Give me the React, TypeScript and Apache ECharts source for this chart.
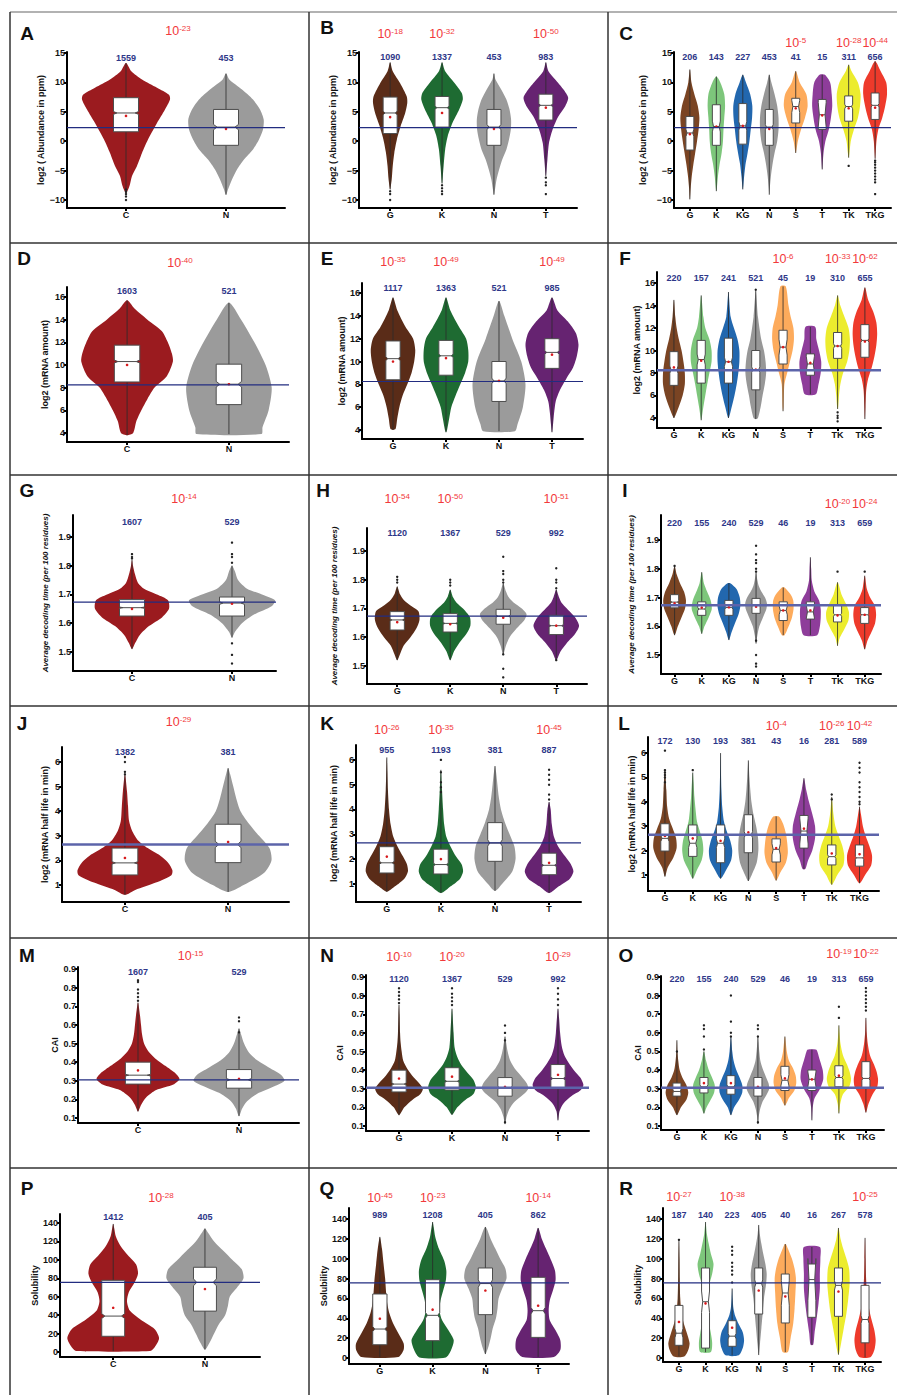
import React, { useEffect, useRef } from 'react';
import * as echarts from 'echarts';

const FONT = '"Liberation Sans", Arial, Helvetica, "DejaVu Sans", sans-serif';

// ---------- categories & colours ----------
const CATS2 = ['C', 'N'];
const CATS4 = ['G', 'K', 'N', 'T'];
const CATS8 = ['G', 'K', 'KG', 'N', 'S', 'T', 'TK', 'TKG'];
const COL2 = ['#9b1b1f', '#9b9b9b'];
const COL4 = ['#5a2c18', '#1e6b32', '#9b9b9b', '#662371'];
const COL8 = ['#7a4423', '#7dc67b', '#2267ae', '#979797', '#fdab5c', '#8e3d9a', '#ecec2e', '#ee3a2b'];

// ---------- tick labels ----------
const TICKS_ABUND = [-10, -5, 0, 5, 10, 15];
const TICKS_MRNA = [4, 6, 8, 10, 12, 14, 16];
const TICKS_DECOD = [1.5, 1.6, 1.7, 1.8, 1.9];
const TICKS_HALF = [1, 2, 3, 4, 5, 6];
const TICKS_CAI = [0.1, 0.2, 0.3, 0.4, 0.5, 0.6, 0.7, 0.8, 0.9];
const TICKS_SOL = [0, 20, 40, 60, 80, 100, 120, 140];

// ---------- axis titles ----------
const TITLE_ABUND = 'log2 ( Abundance in ppm)';
const TITLE_MRNA = 'log2 (mRNA amount)';
const TITLE_DECOD = 'Average decoding time (per 100 residues)';
const TITLE_HALF = 'log2 (mRNA half life in min)';
const TITLE_CAI = 'CAI';
const TITLE_SOL = 'Solubility';

// ---------- reference (genome median) lines ----------
const REF_ABUND = 2.3;
const REF_MRNA = 8.25;
const REF_DECOD = 1.673;
const REF_HALF = 2.65;
const REF_CAI = 0.305;
const REF_SOL = 75.7;

// ---------- counts ----------
const COUNTS_A = [1559, 453];
const COUNTS_B = [1090, 1337, 453, 983];
const COUNTS_C = [206, 143, 227, 453, 41, 15, 311, 656];
const COUNTS_D = [1603, 521];
const COUNTS_E = [1117, 1363, 521, 985];
const COUNTS_F = [220, 157, 241, 521, 45, 19, 310, 655];
const COUNTS_G = [1607, 529];
const COUNTS_H = [1120, 1367, 529, 992];
const COUNTS_I = [220, 155, 240, 529, 46, 19, 313, 659];
const COUNTS_J = [1382, 381];
const COUNTS_K = [955, 1193, 381, 887];
const COUNTS_L = [172, 130, 193, 381, 43, 16, 281, 589];
const COUNTS_M = [1607, 529];
const COUNTS_N = [1120, 1367, 529, 992];
const COUNTS_O = [220, 155, 240, 529, 46, 19, 313, 659];
const COUNTS_P = [1412, 405];
const COUNTS_Q = [989, 1208, 405, 862];
const COUNTS_R = [187, 140, 223, 405, 40, 16, 267, 578];

// ---------- p-value exponents (10^x) ----------
const P_A = ['-23'];
const P_B = ['-18', '-32', null, '-50'];
const P_C = [null, null, null, null, '-5', null, '-28', '-44'];
const P_D = ['-40'];
const P_E = ['-35', '-49', null, '-49'];
const P_F = [null, null, null, null, '-6', null, '-33', '-62'];
const P_G = ['-14'];
const P_H = ['-54', '-50', null, '-51'];
const P_I = [null, null, null, null, null, null, '-20', '-24'];
const P_J = ['-29'];
const P_K = ['-26', '-35', null, '-45'];
const P_L = [null, null, null, null, '-4', null, '-26', '-42'];
const P_M = ['-15'];
const P_N = ['-10', '-20', null, '-29'];
const P_O = [null, null, null, null, null, null, '-19', '-22'];
const P_P = ['-28'];
const P_Q = ['-45', '-23', null, '-14'];
const P_R = ['-27', null, '-38', null, null, null, null, '-25'];

// ---------- violins: p = [value, half width], b = [q1, median, q3], m = mean, o = outliers ----------
const VIOLIN_A = [
  { p: [[-8.8, 0], [-7.6, 0.035], [-5.9, 0.06], [-4.2, 0.11], [-2, 0.16], [0.3, 0.22], [3.1, 0.31], [5.4, 0.39], [7.1, 0.44], [7.9, 0.43], [9.1, 0.31], [10.5, 0.16], [11.9, 0.053], [13.3, 0]], b: [1.6, 4.8, 7.4], m: 4.3, o: [-8.2, -8.6, -9.0, -9.4, -10.0] },
  { p: [[-9.1, 0], [-8.2, 0.02], [-6.5, 0.06], [-4.8, 0.11], [-3.1, 0.18], [-1.4, 0.27], [0.3, 0.33], [2.0, 0.37], [3.7, 0.377], [5.4, 0.34], [7.1, 0.27], [8.8, 0.16], [10.5, 0.033], [11.5, 0]], b: [-0.7, 2.4, 5.4], m: 2.1 },
];
const VIOLIN_B = [
  { p: [[-8.2, 0], [-6.5, 0.03], [-4.2, 0.05], [-2, 0.08], [0.3, 0.13], [2.5, 0.2], [4.8, 0.29], [6.5, 0.33], [7.6, 0.32], [9.9, 0.19], [11.9, 0.05], [13.4, 0]], b: [1.3, 4.8, 7.5], m: 4.1, o: [-8.5, -9, -10] },
  { p: [[-7.2, 0], [-4.2, 0.03], [-1.4, 0.06], [0.9, 0.11], [3.1, 0.2], [5.4, 0.33], [7.1, 0.4], [8.2, 0.38], [9.9, 0.24], [11.9, 0.06], [13.4, 0]], b: [2.4, 5.7, 7.6], m: 4.8, o: [-7.5, -8, -8.5, -9] },
  { p: [[-9.1, 0], [-8.2, 0.02], [-6.5, 0.05], [-4.8, 0.1], [-3.1, 0.16], [-1.4, 0.24], [0.3, 0.29], [2.0, 0.325], [3.7, 0.33], [5.4, 0.3], [7.1, 0.24], [8.8, 0.14], [10.5, 0.03], [11.5, 0]], b: [-0.7, 2.4, 5.4], m: 2.1 },
  { p: [[-5.9, 0], [-3.1, 0.03], [-0.3, 0.06], [2.0, 0.13], [4.2, 0.24], [5.9, 0.37], [7.4, 0.43], [8.8, 0.34], [10.5, 0.18], [11.9, 0.05], [13.4, 0]], b: [3.6, 6.1, 8.0], m: 5.7, o: [-6.2, -7, -7.5, -9] },
];
const VIOLIN_C = [
  { p: [[-9.9, 0], [-8, 0.03], [-6, 0.07], [-4, 0.13], [-2, 0.2], [0, 0.27], [2, 0.33], [4, 0.36], [6, 0.3], [8, 0.17], [10, 0.06], [12.2, 0]], b: [-1.5, 1.4, 4.2], m: 1.2 },
  { p: [[-8.5, 0], [-8, 0.02], [-6, 0.06], [-4, 0.12], [-2, 0.2], [0, 0.25], [2, 0.27], [4, 0.3], [6, 0.33], [8, 0.3], [10, 0.15], [11, 0]], b: [-0.7, 2.5, 6.2], m: 2.5 },
  { p: [[-8.2, 0], [-6, 0.05], [-4, 0.1], [-2, 0.18], [0, 0.25], [2, 0.3], [4, 0.35], [6, 0.36], [8, 0.28], [10, 0.12], [11.3, 0]], b: [-0.5, 2.6, 6.4], m: 2.6 },
  { p: [[-9.1, 0], [-8, 0.02], [-6, 0.06], [-4, 0.12], [-2, 0.2], [0, 0.3], [2, 0.35], [4, 0.35], [6, 0.3], [8, 0.2], [10, 0.08], [11.3, 0]], b: [-0.7, 2.4, 5.4], m: 2.1 },
  { p: [[-2, 0], [0, 0.08], [2, 0.2], [4, 0.35], [6, 0.45], [8, 0.4], [10, 0.15], [11.9, 0]], b: [3.1, 5.9, 7.3], m: 5.6 },
  { p: [[-4.8, 0], [-2, 0.05], [0, 0.12], [2, 0.25], [4, 0.33], [6, 0.38], [8, 0.36], [10, 0.3], [11.3, 0.1]], b: [2.0, 4.5, 7.1], m: 4.4 },
  { p: [[-2.8, 0], [-2, 0.03], [0, 0.08], [2, 0.2], [4, 0.35], [6, 0.43], [8, 0.45], [10, 0.35], [12, 0.1], [13, 0]], b: [3.4, 5.9, 7.7], m: 5.6, o: [-4.2] },
  { p: [[-3, 0], [-2, 0.02], [0, 0.05], [2, 0.12], [4, 0.27], [6, 0.38], [8, 0.45], [10, 0.42], [12, 0.2], [13.6, 0]], b: [3.7, 6.1, 8.2], m: 5.7, o: [-3.3, -3.6, -4, -4.5, -5, -5.5, -6, -6.5, -7, -9] },
];
const VIOLIN_D = [
  { p: [[3.8, 0], [4, 0.06], [5, 0.09], [6, 0.14], [7, 0.2], [8, 0.27], [9, 0.39], [10.3, 0.45], [11, 0.44], [12, 0.4], [13, 0.34], [14, 0.2], [15, 0.07], [15.7, 0]], b: [8.5, 10.3, 11.75], m: 10.0 },
  { p: [[3.9, 0.32], [4.5, 0.33], [6, 0.39], [8, 0.42], [10, 0.36], [12, 0.25], [14, 0.12], [15.5, 0]], b: [6.5, 8.3, 10.07], m: 8.3 },
];
const VIOLIN_E = [
  { p: [[4.0, 0], [4.1, 0.05], [5, 0.08], [6, 0.12], [7, 0.18], [8, 0.27], [9, 0.35], [10, 0.4], [11, 0.42], [12, 0.38], [13, 0.24], [14.5, 0.08], [15.6, 0]], b: [8.4, 10.25, 11.8], m: 10.0 },
  { p: [[3.8, 0], [4, 0.02], [5, 0.06], [6, 0.1], [7, 0.18], [8, 0.27], [9, 0.36], [10, 0.42], [11, 0.42], [12, 0.38], [13, 0.25], [14.5, 0.08], [15.6, 0]], b: [8.8, 10.5, 11.85], m: 10.3 },
  { p: [[3.9, 0.3], [4.5, 0.35], [6, 0.45], [8, 0.5], [10, 0.42], [12, 0.25], [14, 0.1], [15.3, 0]], b: [6.5, 8.3, 10.0], m: 8.3 },
  { p: [[3.8, 0], [4.5, 0.02], [5.5, 0.04], [6.5, 0.07], [7.5, 0.15], [8.5, 0.27], [9.5, 0.4], [10.5, 0.47], [11.5, 0.5], [12.5, 0.45], [13.5, 0.3], [14.5, 0.1], [15.6, 0]], b: [9.4, 10.8, 12.0], m: 10.6 },
];
const VIOLIN_F = [
  { p: [[4.0, 0], [4.2, 0.05], [5, 0.18], [6, 0.32], [7, 0.4], [8, 0.4], [9, 0.35], [10, 0.28], [11, 0.18], [12, 0.1], [13, 0.05], [14.5, 0]], b: [6.9, 8.3, 9.9], m: 8.5 },
  { p: [[3.8, 0], [4, 0.02], [5, 0.08], [6, 0.15], [7, 0.22], [8, 0.3], [9, 0.38], [10, 0.38], [11, 0.3], [12, 0.15], [13, 0.08], [14.9, 0]], b: [7.1, 9.2, 10.9], m: 9.1 },
  { p: [[4.0, 0], [5, 0.12], [6, 0.22], [7, 0.3], [8, 0.36], [9, 0.4], [10, 0.4], [11, 0.33], [12, 0.2], [13, 0.08], [15.2, 0]], b: [7.1, 9.0, 11.1], m: 9.0 },
  { p: [[3.9, 0], [4, 0.08], [5, 0.18], [6, 0.25], [7, 0.33], [8, 0.38], [9, 0.36], [10, 0.3], [11, 0.2], [13, 0.08], [15.3, 0]], b: [6.5, 8.3, 10.0], m: 8.3, o: [15.4] },
  { p: [[4.6, 0], [5, 0.02], [7, 0.05], [8, 0.15], [9, 0.25], [10, 0.35], [11, 0.4], [12, 0.38], [13, 0.28], [14, 0.2], [15.7, 0.1]], b: [8.8, 10.3, 11.8], m: 10.3 },
  { p: [[6.1, 0.2], [7, 0.3], [8, 0.38], [9, 0.4], [10, 0.32], [11, 0.22], [12.1, 0.18]], b: [7.8, 8.8, 9.7], m: 8.9 },
  { p: [[4.8, 0], [5, 0.02], [6, 0.05], [7, 0.1], [8, 0.2], [9, 0.35], [10, 0.43], [11, 0.45], [12, 0.4], [13, 0.25], [14, 0.1], [14.9, 0]], b: [9.3, 10.4, 11.6], m: 10.4, o: [4.5, 4.2, 4.0, 3.7] },
  { p: [[3.9, 0], [5, 0.02], [6.5, 0.05], [7.5, 0.12], [8.5, 0.25], [9.5, 0.35], [10.5, 0.42], [11.5, 0.45], [12.5, 0.42], [13.5, 0.3], [14.5, 0.12], [15.6, 0]], b: [9.4, 10.9, 12.3], m: 10.8 },
];
const VIOLIN_G = [
  { p: [[1.51, 0], [1.53, 0.03], [1.56, 0.08], [1.59, 0.17], [1.62, 0.3], [1.65, 0.37], [1.68, 0.36], [1.70, 0.25], [1.72, 0.12], [1.74, 0.06], [1.77, 0.03], [1.80, 0.01], [1.82, 0]], b: [1.625, 1.654, 1.682], m: 1.65, o: [1.825, 1.83, 1.84] },
  { p: [[1.55, 0], [1.57, 0.03], [1.6, 0.1], [1.63, 0.22], [1.66, 0.4], [1.68, 0.43], [1.70, 0.3], [1.72, 0.15], [1.75, 0.06], [1.78, 0.03], [1.80, 0]], b: [1.625, 1.67, 1.691], m: 1.668, o: [1.81, 1.83, 1.84, 1.88, 1.53, 1.49, 1.46] },
];
const VIOLIN_H = [
  { p: [[1.52, 0], [1.54, 0.05], [1.57, 0.12], [1.6, 0.25], [1.63, 0.36], [1.66, 0.42], [1.69, 0.4], [1.71, 0.25], [1.73, 0.12], [1.75, 0.05], [1.776, 0]], b: [1.625, 1.66, 1.689], m: 1.652, o: [1.79, 1.80, 1.81, 1.51] },
  { p: [[1.52, 0], [1.55, 0.07], [1.58, 0.17], [1.61, 0.3], [1.64, 0.38], [1.67, 0.37], [1.70, 0.24], [1.72, 0.12], [1.74, 0.05], [1.765, 0]], b: [1.618, 1.648, 1.682], m: 1.645, o: [1.78, 1.79, 1.80, 1.51] },
  { p: [[1.54, 0], [1.57, 0.05], [1.6, 0.12], [1.63, 0.25], [1.66, 0.4], [1.68, 0.44], [1.70, 0.35], [1.72, 0.2], [1.74, 0.1], [1.76, 0.05], [1.787, 0]], b: [1.645, 1.673, 1.697], m: 1.668, o: [1.79, 1.80, 1.82, 1.83, 1.88, 1.55, 1.54, 1.49, 1.46] },
  { p: [[1.52, 0], [1.55, 0.08], [1.58, 0.2], [1.61, 0.35], [1.64, 0.43], [1.67, 0.35], [1.70, 0.2], [1.72, 0.1], [1.74, 0.05], [1.765, 0]], b: [1.609, 1.64, 1.676], m: 1.64, o: [1.77, 1.79, 1.80, 1.84, 1.52] },
];
const VIOLIN_I = [
  { p: [[1.569, 0], [1.6, 0.12], [1.63, 0.25], [1.66, 0.38], [1.69, 0.42], [1.72, 0.35], [1.75, 0.2], [1.78, 0.08], [1.81, 0]], b: [1.664, 1.684, 1.71], m: 1.68, o: [1.81] },
  { p: [[1.574, 0], [1.6, 0.1], [1.63, 0.25], [1.66, 0.37], [1.69, 0.33], [1.72, 0.2], [1.75, 0.08], [1.788, 0]], b: [1.638, 1.66, 1.685], m: 1.665 },
  { p: [[1.552, 0], [1.58, 0.1], [1.61, 0.22], [1.64, 0.35], [1.67, 0.42], [1.70, 0.4], [1.73, 0.28], [1.75, 0.05]], b: [1.638, 1.665, 1.69], m: 1.666 },
  { p: [[1.54, 0], [1.57, 0.05], [1.6, 0.12], [1.63, 0.25], [1.66, 0.38], [1.68, 0.4], [1.70, 0.33], [1.72, 0.2], [1.74, 0.1], [1.76, 0.05], [1.787, 0]], b: [1.645, 1.673, 1.697], m: 1.668, o: [1.79, 1.80, 1.82, 1.83, 1.85, 1.88, 1.55, 1.5, 1.47, 1.46] },
  { p: [[1.569, 0.05], [1.6, 0.2], [1.63, 0.32], [1.66, 0.38], [1.69, 0.37], [1.71, 0.28], [1.735, 0.05]], b: [1.62, 1.655, 1.685], m: 1.655 },
  { p: [[1.569, 0.25], [1.6, 0.35], [1.63, 0.38], [1.66, 0.38], [1.69, 0.32], [1.72, 0.15], [1.76, 0.05], [1.8, 0.03], [1.84, 0]], b: [1.625, 1.65, 1.685], m: 1.655 },
  { p: [[1.532, 0], [1.56, 0.08], [1.59, 0.25], [1.62, 0.4], [1.65, 0.42], [1.68, 0.3], [1.71, 0.15], [1.753, 0]], b: [1.615, 1.64, 1.672], m: 1.638, o: [1.79] },
  { p: [[1.52, 0], [1.55, 0.1], [1.58, 0.25], [1.61, 0.38], [1.64, 0.42], [1.67, 0.38], [1.70, 0.2], [1.73, 0.08], [1.776, 0]], b: [1.61, 1.64, 1.665], m: 1.64, o: [1.79] },
];
const VIOLIN_J = [
  { p: [[0.6, 0], [0.8, 0.1], [1.1, 0.3], [1.4, 0.45], [1.6, 0.46], [1.9, 0.42], [2.2, 0.34], [2.5, 0.22], [2.8, 0.13], [3.2, 0.07], [3.6, 0.04], [4.2, 0.03], [4.8, 0.02], [5.5, 0]], b: [1.41, 1.9, 2.5], m: 2.1, o: [5.5, 5.6, 6.0, 6.2] },
  { p: [[0.72, 0], [1.0, 0.15], [1.5, 0.35], [2.0, 0.42], [2.5, 0.4], [3.0, 0.3], [3.5, 0.2], [4.0, 0.12], [4.5, 0.08], [5.0, 0.05], [5.5, 0.02], [5.75, 0]], b: [1.91, 2.65, 3.47], m: 2.75 },
];
const VIOLIN_K = [
  { p: [[0.68, 0], [0.9, 0.15], [1.2, 0.32], [1.5, 0.39], [1.8, 0.37], [2.1, 0.3], [2.5, 0.2], [2.9, 0.12], [3.4, 0.07], [4.0, 0.04], [4.8, 0.02], [5.5, 0.01], [6.1, 0]], b: [1.44, 1.85, 2.5], m: 2.1 },
  { p: [[0.63, 0], [0.9, 0.18], [1.2, 0.35], [1.5, 0.41], [1.8, 0.38], [2.1, 0.28], [2.5, 0.18], [2.9, 0.1], [3.4, 0.06], [4.0, 0.04], [4.8, 0.02], [5.6, 0]], b: [1.40, 1.78, 2.4], m: 2.0, o: [4.7, 4.9, 5.1, 5.3, 5.5, 6.0] },
  { p: [[0.72, 0], [1.0, 0.13], [1.5, 0.32], [2.0, 0.38], [2.5, 0.36], [3.0, 0.27], [3.5, 0.18], [4.0, 0.11], [4.5, 0.07], [5.0, 0.045], [5.5, 0.02], [5.75, 0]], b: [1.91, 2.65, 3.47], m: 2.75 },
  { p: [[0.63, 0], [0.9, 0.18], [1.2, 0.38], [1.5, 0.45], [1.8, 0.4], [2.1, 0.3], [2.5, 0.17], [2.9, 0.09], [3.4, 0.05], [4.0, 0.03], [4.3, 0]], b: [1.37, 1.75, 2.24], m: 1.85, o: [4.4, 4.6, 5.0, 5.2, 5.4, 5.6] },
];
const VIOLIN_L = [
  { p: [[0.93, 0], [1.3, 0.1], [1.7, 0.3], [2.1, 0.42], [2.5, 0.4], [2.9, 0.28], [3.3, 0.15], [3.8, 0.08], [4.5, 0.05], [5.3, 0]], b: [1.98, 2.5, 3.1], m: 2.6, o: [4.8, 5.0, 5.1, 5.2, 5.3, 6.1] },
  { p: [[0.85, 0], [1.2, 0.15], [1.6, 0.32], [2.0, 0.38], [2.4, 0.35], [2.8, 0.25], [3.2, 0.15], [3.7, 0.1], [4.2, 0.06], [4.8, 0.03], [5.2, 0]], b: [1.76, 2.3, 3.05], m: 2.5, o: [5.3] },
  { p: [[0.85, 0], [1.2, 0.2], [1.6, 0.38], [2.0, 0.42], [2.4, 0.35], [2.8, 0.22], [3.2, 0.12], [3.8, 0.06], [4.5, 0.03], [5.5, 0.01], [6.0, 0]], b: [1.5, 2.3, 3.05], m: 2.4 },
  { p: [[0.75, 0], [1.0, 0.12], [1.5, 0.3], [2.0, 0.36], [2.5, 0.35], [3.0, 0.28], [3.5, 0.18], [4.0, 0.11], [4.5, 0.07], [5.0, 0.04], [5.7, 0]], b: [1.91, 2.65, 3.47], m: 2.75 },
  { p: [[0.77, 0], [1.1, 0.15], [1.5, 0.35], [1.9, 0.42], [2.3, 0.4], [2.7, 0.35], [3.1, 0.25], [3.4, 0.1]], b: [1.53, 2.05, 2.48], m: 2.1 },
  { p: [[1.24, 0.05], [1.6, 0.15], [2.0, 0.3], [2.5, 0.4], [3.0, 0.4], [3.5, 0.3], [4.0, 0.18], [4.5, 0.08], [4.97, 0]], b: [2.1, 2.8, 3.44], m: 2.9 },
  { p: [[0.6, 0], [1.0, 0.2], [1.4, 0.42], [1.8, 0.45], [2.2, 0.38], [2.6, 0.25], [3.0, 0.13], [3.5, 0.06], [4.0, 0.02], [4.2, 0]], b: [1.41, 1.75, 2.23], m: 1.88, o: [4.3, 4.1] },
  { p: [[0.66, 0], [1.0, 0.2], [1.4, 0.42], [1.8, 0.45], [2.2, 0.35], [2.6, 0.22], [3.0, 0.12], [3.5, 0.05], [3.8, 0]], b: [1.36, 1.7, 2.23], m: 1.85, o: [3.9, 4.0, 4.2, 4.4, 4.6, 4.8, 5.2, 5.4, 5.6] },
];
const VIOLIN_M = [
  { p: [[0.135, 0], [0.17, 0.03], [0.21, 0.08], [0.25, 0.18], [0.28, 0.35], [0.31, 0.41], [0.34, 0.37], [0.38, 0.27], [0.42, 0.17], [0.46, 0.1], [0.5, 0.06], [0.55, 0.04], [0.6, 0.03], [0.65, 0.02], [0.72, 0]], b: [0.282, 0.33, 0.40], m: 0.356, o: [0.73, 0.75, 0.77, 0.79, 0.81, 0.83, 0.84] },
  { p: [[0.11, 0], [0.15, 0.03], [0.19, 0.08], [0.23, 0.18], [0.27, 0.35], [0.30, 0.45], [0.33, 0.42], [0.37, 0.3], [0.41, 0.18], [0.45, 0.1], [0.5, 0.05], [0.55, 0.02], [0.58, 0]], b: [0.26, 0.305, 0.36], m: 0.31, o: [0.56, 0.58, 0.62, 0.64] },
];
const VIOLIN_N = [
  { p: [[0.158, 0], [0.2, 0.1], [0.24, 0.25], [0.27, 0.4], [0.3, 0.45], [0.33, 0.38], [0.37, 0.25], [0.41, 0.15], [0.45, 0.08], [0.5, 0.05], [0.55, 0.03], [0.6, 0.02], [0.7, 0.01], [0.75, 0]], b: [0.283, 0.325, 0.40], m: 0.355, o: [0.76, 0.78, 0.8, 0.82, 0.84] },
  { p: [[0.16, 0], [0.2, 0.1], [0.24, 0.25], [0.27, 0.4], [0.31, 0.45], [0.35, 0.4], [0.39, 0.28], [0.43, 0.17], [0.47, 0.1], [0.52, 0.05], [0.6, 0.03], [0.7, 0.01], [0.73, 0]], b: [0.293, 0.34, 0.413], m: 0.365, o: [0.75, 0.77, 0.79, 0.81, 0.84] },
  { p: [[0.11, 0], [0.15, 0.03], [0.19, 0.08], [0.23, 0.18], [0.27, 0.35], [0.30, 0.44], [0.33, 0.41], [0.37, 0.3], [0.41, 0.18], [0.45, 0.1], [0.5, 0.05], [0.55, 0.02], [0.58, 0]], b: [0.26, 0.305, 0.36], m: 0.31, o: [0.56, 0.6, 0.64, 0.12] },
  { p: [[0.13, 0], [0.18, 0.03], [0.22, 0.1], [0.26, 0.25], [0.29, 0.42], [0.32, 0.48], [0.36, 0.42], [0.4, 0.3], [0.44, 0.2], [0.48, 0.12], [0.53, 0.07], [0.6, 0.04], [0.68, 0.02], [0.73, 0]], b: [0.30, 0.355, 0.43], m: 0.375, o: [0.75, 0.78, 0.81, 0.84] },
];
const VIOLIN_O = [
  { p: [[0.158, 0], [0.2, 0.15], [0.24, 0.35], [0.28, 0.42], [0.32, 0.35], [0.36, 0.2], [0.4, 0.1], [0.45, 0.05], [0.5, 0.02], [0.56, 0]], b: [0.26, 0.285, 0.33], m: 0.3, o: [0.47, 0.5] },
  { p: [[0.167, 0], [0.2, 0.1], [0.24, 0.25], [0.28, 0.38], [0.32, 0.4], [0.36, 0.3], [0.4, 0.18], [0.45, 0.08], [0.5, 0]], b: [0.277, 0.31, 0.36], m: 0.33, o: [0.51, 0.58, 0.62, 0.64] },
  { p: [[0.158, 0], [0.2, 0.12], [0.24, 0.3], [0.28, 0.42], [0.32, 0.42], [0.36, 0.32], [0.4, 0.2], [0.45, 0.1], [0.5, 0.05], [0.58, 0]], b: [0.27, 0.31, 0.37], m: 0.33, o: [0.58, 0.6, 0.66, 0.8] },
  { p: [[0.11, 0], [0.15, 0.03], [0.19, 0.08], [0.23, 0.17], [0.27, 0.33], [0.30, 0.42], [0.33, 0.39], [0.37, 0.28], [0.41, 0.17], [0.45, 0.09], [0.5, 0.05], [0.55, 0.02], [0.58, 0]], b: [0.26, 0.305, 0.36], m: 0.31, o: [0.58, 0.62, 0.64, 0.12] },
  { p: [[0.21, 0], [0.25, 0.15], [0.29, 0.35], [0.33, 0.42], [0.37, 0.4], [0.41, 0.3], [0.45, 0.15], [0.5, 0.07], [0.58, 0]], b: [0.29, 0.345, 0.42], m: 0.355 },
  { p: [[0.13, 0], [0.2, 0.03], [0.25, 0.1], [0.3, 0.3], [0.35, 0.42], [0.4, 0.4], [0.45, 0.3], [0.5, 0.2], [0.51, 0.15]], b: [0.29, 0.35, 0.40], m: 0.35 },
  { p: [[0.167, 0], [0.22, 0.05], [0.27, 0.15], [0.31, 0.38], [0.35, 0.45], [0.39, 0.4], [0.43, 0.3], [0.48, 0.15], [0.54, 0.06], [0.6, 0.02], [0.64, 0]], b: [0.31, 0.36, 0.423], m: 0.37, o: [0.68, 0.74] },
  { p: [[0.172, 0], [0.22, 0.1], [0.27, 0.25], [0.31, 0.42], [0.35, 0.45], [0.39, 0.4], [0.43, 0.3], [0.48, 0.15], [0.54, 0.07], [0.6, 0.03], [0.68, 0]], b: [0.305, 0.355, 0.445], m: 0.38, o: [0.7, 0.72, 0.74, 0.76, 0.78, 0.8, 0.82, 0.84] },
];
const VIOLIN_P = [
  { p: [[1, 0.4], [5, 0.45], [15, 0.5], [25, 0.45], [35, 0.3], [45, 0.18], [55, 0.15], [65, 0.17], [75, 0.23], [85, 0.27], [95, 0.25], [105, 0.16], [115, 0.08], [125, 0.03], [135, 0.01], [139, 0]], b: [17.1, 39, 77.8], m: 48 },
  { p: [[2.6, 0], [10, 0.05], [20, 0.1], [30, 0.15], [40, 0.22], [50, 0.25], [60, 0.27], [70, 0.35], [80, 0.42], [90, 0.4], [100, 0.3], [110, 0.2], [120, 0.1], [130, 0.03], [134, 0]], b: [44.4, 75.6, 92], m: 68.4 },
];
const VIOLIN_Q = [
  { p: [[1, 0.35], [8, 0.45], [15, 0.45], [25, 0.35], [35, 0.25], [45, 0.18], [55, 0.14], [65, 0.12], [80, 0.1], [95, 0.07], [110, 0.04], [122, 0]], b: [13.4, 29.2, 64.5], m: 39.6 },
  { p: [[0.5, 0.25], [8, 0.35], [18, 0.4], [28, 0.3], [38, 0.18], [48, 0.13], [58, 0.15], [68, 0.2], [78, 0.25], [88, 0.26], [98, 0.22], [110, 0.12], [122, 0.05], [132, 0.02], [137, 0]], b: [17.5, 43, 78.9], m: 48.7 },
  { p: [[4, 0], [10, 0.05], [20, 0.1], [30, 0.14], [40, 0.2], [50, 0.23], [60, 0.25], [70, 0.32], [80, 0.4], [90, 0.38], [100, 0.28], [110, 0.19], [120, 0.1], [130, 0.03], [132, 0]], b: [43.7, 75, 90.7], m: 68 },
  { p: [[1, 0.3], [8, 0.42], [18, 0.42], [28, 0.33], [38, 0.22], [48, 0.2], [58, 0.22], [68, 0.28], [78, 0.33], [88, 0.32], [98, 0.25], [110, 0.15], [120, 0.07], [131, 0]], b: [20.8, 47.7, 81.3], m: 52.7 },
];
const VIOLIN_R = [
  { p: [[1.5, 0.2], [8, 0.35], [15, 0.4], [25, 0.3], [35, 0.18], [45, 0.1], [60, 0.05], [80, 0.03], [100, 0.02], [118, 0]], b: [12.8, 25, 53], m: 36.3, o: [119] },
  { p: [[6, 0.2], [15, 0.25], [25, 0.2], [40, 0.1], [55, 0.07], [70, 0.1], [85, 0.25], [95, 0.3], [105, 0.2], [115, 0.12], [125, 0.05], [137, 0]], b: [10, 56.7, 90.7], m: 55 },
  { p: [[2.7, 0.25], [10, 0.4], [18, 0.45], [26, 0.4], [34, 0.25], [42, 0.12], [50, 0.05], [60, 0.02], [70, 0]], b: [11.8, 22, 37.6], m: 30.5, o: [72, 76, 80, 84, 88, 92, 96, 100, 104, 108, 112, 114] },
  { p: [[3, 0], [15, 0.05], [30, 0.1], [45, 0.15], [60, 0.2], [75, 0.28], [85, 0.3], [95, 0.25], [105, 0.17], [115, 0.1], [125, 0.04], [134, 0]], b: [44.3, 75, 90.7], m: 68 },
  { p: [[6, 0.1], [20, 0.2], [35, 0.3], [50, 0.35], [65, 0.38], [80, 0.4], [90, 0.35], [100, 0.25], [110, 0.1], [114.8, 0.02]], b: [35.3, 65.5, 84.6], m: 62 },
  { p: [[13.4, 0.05], [25, 0.1], [40, 0.18], [55, 0.25], [70, 0.3], [85, 0.3], [100, 0.32], [111.8, 0.3]], b: [41, 79, 94.7], m: 71 },
  { p: [[3.4, 0], [15, 0.1], [30, 0.2], [45, 0.3], [60, 0.37], [75, 0.42], [90, 0.4], [100, 0.3], [110, 0.18], [120, 0.08], [131, 0]], b: [42, 73.2, 90.7], m: 67 },
  { p: [[0.7, 0.2], [8, 0.35], [18, 0.4], [28, 0.35], [38, 0.25], [50, 0.15], [65, 0.08], [80, 0.04], [100, 0.02], [121, 0]], b: [15.3, 38.8, 73.2], m: 45.3 },
];

// ---------- layout (pixel positions only) ----------
const LAYOUT = {
  A: { left: 67, right: 285, top: 52, bottom: 208, xMin: 0.41, xMax: 2.59, yMin: -11.36, yMax: 15.17, gap: 19, countY: 58, pY: 31, lx: 27, ly: 33 },
  B: { left: 359, right: 577, top: 52, bottom: 208, xMin: 0.4, xMax: 4.6, yMin: -11.36, yMax: 15.17, gap: 20, countY: 57, pY: 34, lx: 327, ly: 27 },
  C: { left: 674, right: 891, top: 52, bottom: 208, xMin: 0.4, xMax: 8.6, yMin: -11.36, yMax: 15.17, gap: 27, countY: 57, pY: 43, lx: 626, ly: 33 },
  D: { left: 67, right: 289, top: 287, bottom: 442, xMin: 0.41, xMax: 2.59, yMin: 3.2, yMax: 16.88, gap: 18, countY: 291, pY: 263, lx: 24, ly: 258 },
  E: { left: 362, right: 583, top: 283, bottom: 439, xMin: 0.415, xMax: 4.585, yMin: 3.21, yMax: 16.88, gap: 16, countY: 288, pY: 262, lx: 327, ly: 258 },
  F: { left: 657, right: 881, top: 272, bottom: 428, xMin: 0.38, xMax: 8.59, yMin: 3.11, yMax: 16.98, gap: 16, countY: 278, pY: 259, lx: 625, ly: 258 },
  G: { left: 73, right: 276, top: 515, bottom: 671, xMin: 0.41, xMax: 2.44, yMin: 1.434, yMax: 1.976, gap: 24, countY: 522, pY: 499, lx: 27, ly: 490 },
  H: { left: 367, right: 587, top: 528, bottom: 684, xMin: 0.43, xMax: 4.58, yMin: 1.437, yMax: 1.98, gap: 29, countY: 533, pY: 499, lx: 323, ly: 490 },
  I: { left: 661, right: 881, top: 515, bottom: 674, xMin: 0.5, xMax: 8.6, yMin: 1.434, yMax: 1.987, gap: 26, countY: 523, pY: 504, lx: 625, ly: 490 },
  J: { left: 62, right: 289, top: 747, bottom: 902, xMin: 0.39, xMax: 2.59, yMin: 0.31, yMax: 6.61, gap: 13, countY: 752, pY: 722, lx: 22, ly: 723 },
  K: { left: 356, right: 581, top: 745, bottom: 902, xMin: 0.43, xMax: 4.59, yMin: 0.27, yMax: 6.6, gap: 18, countY: 750, pY: 730, lx: 327, ly: 723 },
  L: { left: 648, right: 879, top: 737, bottom: 891, xMin: 0.39, xMax: 8.7, yMin: 0.34, yMax: 6.66, gap: 12, countY: 741, pY: 726, lx: 624, ly: 723 },
  M: { left: 78, right: 299, top: 967, bottom: 1123, xMin: 0.406, xMax: 2.594, yMin: 0.073, yMax: 0.911, gap: 18, countY: 972, pY: 956, lx: 27, ly: 955 },
  N: { left: 366, right: 589, top: 975, bottom: 1131, xMin: 0.377, xMax: 4.585, yMin: 0.073, yMax: 0.911, gap: 22, countY: 979, pY: 957, lx: 327, ly: 955 },
  O: { left: 661, right: 884, top: 976, bottom: 1130, xMin: 0.41, xMax: 8.67, yMin: 0.078, yMax: 0.905, gap: 19, countY: 979, pY: 954, lx: 626, ly: 955 },
  P: { left: 60, right: 260, top: 1214, bottom: 1357, xMin: 0.42, xMax: 2.6, yMin: -5.4, yMax: 149.8, gap: 19, countY: 1217, pY: 1198, lx: 27, ly: 1188 },
  Q: { left: 349, right: 569, top: 1208, bottom: 1364, xMin: 0.415, xMax: 4.585, yMin: -6, yMax: 151.1, gap: 17, countY: 1215, pY: 1198, lx: 327, ly: 1188 },
  R: { left: 663, right: 881, top: 1208, bottom: 1362, xMin: 0.4, xMax: 8.6, yMin: -4, yMax: 151.1, gap: 18, countY: 1215, pY: 1197, lx: 626, ly: 1188 },
};

const THIN = { color: '#222c80', width: 1.2 };
const THICK = { color: '#5c64aa', width: 2.6 };

const fmtAbund = (v) => (v < 0 ? '\u2212' + Math.abs(v) : String(v));
const fmtInt = (v) => String(v);
const fmt1 = (v) => v.toFixed(1);

const PANELS = [
  { id: 'A', cats: CATS2, colors: COL2, counts: COUNTS_A, pv: P_A, violins: VIOLIN_A, ticks: TICKS_ABUND, fmt: fmtAbund, title: TITLE_ABUND, ref: REF_ABUND, ls: THIN },
  { id: 'B', cats: CATS4, colors: COL4, counts: COUNTS_B, pv: P_B, violins: VIOLIN_B, ticks: TICKS_ABUND, fmt: fmtAbund, title: TITLE_ABUND, ref: REF_ABUND, ls: THIN },
  { id: 'C', cats: CATS8, colors: COL8, counts: COUNTS_C, pv: P_C, violins: VIOLIN_C, ticks: TICKS_ABUND, fmt: fmtAbund, title: TITLE_ABUND, ref: REF_ABUND, ls: THIN },
  { id: 'D', cats: CATS2, colors: COL2, counts: COUNTS_D, pv: P_D, violins: VIOLIN_D, ticks: TICKS_MRNA, fmt: fmtInt, title: TITLE_MRNA, ref: REF_MRNA, ls: THIN },
  { id: 'E', cats: CATS4, colors: COL4, counts: COUNTS_E, pv: P_E, violins: VIOLIN_E, ticks: TICKS_MRNA, fmt: fmtInt, title: TITLE_MRNA, ref: REF_MRNA, ls: THIN },
  { id: 'F', cats: CATS8, colors: COL8, counts: COUNTS_F, pv: P_F, violins: VIOLIN_F, ticks: TICKS_MRNA, fmt: fmtInt, title: TITLE_MRNA, ref: REF_MRNA, ls: THICK },
  { id: 'G', cats: CATS2, colors: COL2, counts: COUNTS_G, pv: P_G, violins: VIOLIN_G, ticks: TICKS_DECOD, fmt: fmt1, title: TITLE_DECOD, ref: REF_DECOD, ls: THIN },
  { id: 'H', cats: CATS4, colors: COL4, counts: COUNTS_H, pv: P_H, violins: VIOLIN_H, ticks: TICKS_DECOD, fmt: fmt1, title: TITLE_DECOD, ref: REF_DECOD, ls: THIN },
  { id: 'I', cats: CATS8, colors: COL8, counts: COUNTS_I, pv: P_I, violins: VIOLIN_I, ticks: TICKS_DECOD, fmt: fmt1, title: TITLE_DECOD, ref: REF_DECOD, ls: THICK },
  { id: 'J', cats: CATS2, colors: COL2, counts: COUNTS_J, pv: P_J, violins: VIOLIN_J, ticks: TICKS_HALF, fmt: fmtInt, title: TITLE_HALF, ref: REF_HALF, ls: THICK },
  { id: 'K', cats: CATS4, colors: COL4, counts: COUNTS_K, pv: P_K, violins: VIOLIN_K, ticks: TICKS_HALF, fmt: fmtInt, title: TITLE_HALF, ref: REF_HALF, ls: THIN },
  { id: 'L', cats: CATS8, colors: COL8, counts: COUNTS_L, pv: P_L, violins: VIOLIN_L, ticks: TICKS_HALF, fmt: fmtInt, title: TITLE_HALF, ref: REF_HALF, ls: THICK },
  { id: 'M', cats: CATS2, colors: COL2, counts: COUNTS_M, pv: P_M, violins: VIOLIN_M, ticks: TICKS_CAI, fmt: fmt1, title: TITLE_CAI, ref: REF_CAI, ls: THIN },
  { id: 'N', cats: CATS4, colors: COL4, counts: COUNTS_N, pv: P_N, violins: VIOLIN_N, ticks: TICKS_CAI, fmt: fmt1, title: TITLE_CAI, ref: REF_CAI, ls: THICK },
  { id: 'O', cats: CATS8, colors: COL8, counts: COUNTS_O, pv: P_O, violins: VIOLIN_O, ticks: TICKS_CAI, fmt: fmt1, title: TITLE_CAI, ref: REF_CAI, ls: THICK },
  { id: 'P', cats: CATS2, colors: COL2, counts: COUNTS_P, pv: P_P, violins: VIOLIN_P, ticks: TICKS_SOL, fmt: fmtInt, title: TITLE_SOL, ref: REF_SOL, ls: THIN },
  { id: 'Q', cats: CATS4, colors: COL4, counts: COUNTS_Q, pv: P_Q, violins: VIOLIN_Q, ticks: TICKS_SOL, fmt: fmtInt, title: TITLE_SOL, ref: REF_SOL, ls: THIN },
  { id: 'R', cats: CATS8, colors: COL8, counts: COUNTS_R, pv: P_R, violins: VIOLIN_R, ticks: TICKS_SOL, fmt: fmtInt, title: TITLE_SOL, ref: REF_SOL, ls: THIN },
];

function makeRender(P, L) {
  const n = P.cats.length;
  const bw = n === 2 ? 0.125 : n === 4 ? 0.135 : 0.15;
  return (params, api) => {
    const i = params.dataIndex;
    const v = P.violins[i];
    const cx = i + 1;
    const c = (x, y) => api.coord([x, y]);
    const kids = [];
    const right = v.p.map(([y, w]) => c(cx + w, y));
    const left = [];
    for (let j = v.p.length - 1; j >= 0; j--) {
      if (v.p[j][1] > 0) left.push(c(cx - v.p[j][1], v.p[j][0]));
    }
    kids.push({ type: 'polygon', shape: { points: right.concat(left), smooth: 0.25 }, style: { fill: P.colors[i] } });
    const lo = c(cx, v.p[0][0]);
    const hi = c(cx, v.p[v.p.length - 1][0]);
    kids.push({ type: 'line', shape: { x1: lo[0], y1: lo[1], x2: hi[0], y2: hi[1] }, style: { stroke: '#2b2b2b', lineWidth: 0.8 } });
    (v.o || []).forEach((o) => {
      const q = c(cx, o);
      kids.push({ type: 'circle', shape: { cx: q[0], cy: q[1], r: 1.2 }, style: { fill: '#222' } });
    });
    const [q1, med, q3] = v.b;
    const nh = (1.58 * (q3 - q1)) / Math.sqrt(P.counts[i]);
    const boxPts = [
      [cx - bw, q1], [cx + bw, q1], [cx + bw, med - nh], [cx + bw * 0.72, med], [cx + bw, med + nh],
      [cx + bw, q3], [cx - bw, q3], [cx - bw, med + nh], [cx - bw * 0.72, med], [cx - bw, med - nh],
    ].map(([x, y]) => c(x, y));
    kids.push({ type: 'polygon', shape: { points: boxPts }, style: { fill: '#ffffff', stroke: '#4d4d4d', lineWidth: 1 } });
    const m1 = c(cx - bw * 0.72, med);
    const m2 = c(cx + bw * 0.72, med);
    kids.push({ type: 'line', shape: { x1: m1[0], y1: m1[1], x2: m2[0], y2: m2[1] }, style: { stroke: '#4d4d4d', lineWidth: 1 } });
    const mp = c(cx, v.m);
    kids.push({ type: 'circle', shape: { cx: mp[0], cy: mp[1], r: 1.3 }, style: { fill: '#d7191c' } });
    const tx = c(cx, v.b[1])[0];
    kids.push({
      type: 'text', x: tx, y: L.countY,
      style: { text: String(P.counts[i]), fill: '#2e3789', font: 'bold 9px ' + FONT, align: 'center', verticalAlign: 'middle' },
    });
    let exp = null;
    let px = tx;
    if (n === 2) {
      if (i === 0) { exp = P.pv[0]; px = c(1.52, v.b[1])[0]; }
    } else {
      exp = P.pv[i];
    }
    if (exp) {
      kids.push({
        type: 'text', x: px, y: L.pY,
        style: {
          text: '{a|10}{b|' + exp + '}',
          align: 'center', verticalAlign: 'middle',
          rich: {
            a: { fontSize: 12.5, fontFamily: FONT, fill: '#f2393b', lineHeight: 14 },
            b: { fontSize: 8, fontFamily: FONT, fill: '#f2393b', verticalAlign: 'top' },
          },
        },
      });
    }
    return { type: 'group', children: kids };
  };
}

function buildOption() {
  const grid = [];
  const xAxis = [];
  const yAxis = [];
  const series = [];
  const elements = [];
  PANELS.forEach((P, k) => {
    const L = LAYOUT[P.id];
    grid.push({ left: L.left, top: L.top, width: L.right - L.left, height: L.bottom - L.top, containLabel: false });
    const catVals = P.cats.map((_, i) => i + 1);
    xAxis.push({
      gridIndex: k, type: 'value', min: L.xMin, max: L.xMax,
      axisLine: { show: true, onZero: false, lineStyle: { color: '#000', width: 2 } },
      axisTick: { show: true, customValues: catVals, length: 3, lineStyle: { color: '#000', width: 2 } },
      axisLabel: {
        customValues: catVals, formatter: (val) => P.cats[Math.round(val) - 1] || '',
        fontSize: 9, fontWeight: 'bold', color: '#111', fontFamily: FONT, margin: 2,
      },
      splitLine: { show: false },
    });
    const decod = P.title === TITLE_DECOD;
    yAxis.push({
      gridIndex: k, type: 'value', min: L.yMin, max: L.yMax,
      axisLine: { show: true, onZero: false, lineStyle: { color: '#000', width: 2 } },
      axisTick: { show: true, customValues: P.ticks, length: 3, lineStyle: { color: '#000', width: 2 } },
      axisLabel: { customValues: P.ticks, formatter: (val) => P.fmt(val), fontSize: 9, fontWeight: 'bold', color: '#111', fontFamily: FONT, margin: 2 },
      splitLine: { show: false },
      name: P.title, nameLocation: 'middle', nameGap: L.gap,
      nameTextStyle: { fontSize: decod ? 8 : 9, fontWeight: 'bold', fontStyle: decod ? 'italic' : 'normal', color: '#111', fontFamily: FONT },
    });
    series.push({
      type: 'custom', xAxisIndex: k, yAxisIndex: k, silent: true, z: 2,
      data: P.violins.map((v, i) => [i + 1, v.b[1]]),
      encode: { x: 0, y: 1 },
      renderItem: makeRender(P, L),
    });
    series.push({
      type: 'line', xAxisIndex: k, yAxisIndex: k, silent: true, z: 6,
      data: [[L.xMin, P.ref], [L.xMax, P.ref]],
      symbol: 'none', lineStyle: { color: P.ls.color, width: P.ls.width },
    });
    elements.push({
      type: 'text', x: L.lx, y: L.ly,
      style: { text: P.id, font: 'bold 19px ' + FONT, fill: '#111', align: 'center', verticalAlign: 'middle' },
    });
  });
  const frame = (x1, y1, x2, y2, col, w) => ({ type: 'line', shape: { x1, y1, x2, y2 }, style: { stroke: col, lineWidth: w } });
  elements.push(frame(10, 12, 897, 12, '#666', 1.2));
  elements.push(frame(10, 12, 10, 1395, '#333', 1.5));
  [243, 475, 706, 938, 1168].forEach((y) => elements.push(frame(10, y, 897, y, '#333', 1.6)));
  [309, 608].forEach((x) => elements.push(frame(x, 12, x, 1395, '#333', 1.5)));
  return { animation: false, backgroundColor: '#ffffff', grid, xAxis, yAxis, series, graphic: { elements } };
}

export default function App() {
  const ref = useRef(null);
  useEffect(() => {
    const chart = echarts.init(ref.current, null, { renderer: 'svg' });
    chart.setOption(buildOption());
    return () => chart.dispose();
  }, []);
  return (
    <div
      ref={ref}
      style={{ position: 'absolute', left: 0, top: 0, width: 897, height: 1395, background: '#fff' }}
    />
  );
}
